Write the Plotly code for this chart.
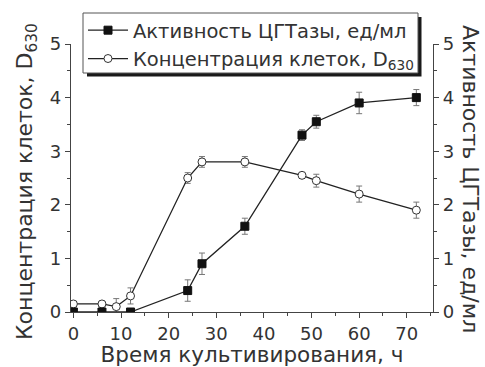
import plotly.graph_objects as go

# Data
act_time = [0, 6, 12, 24, 27, 36, 48, 51, 60, 72]
act_val = [0.0, 0.0, 0.0, 0.4, 0.9, 1.6, 3.3, 3.55, 3.9, 4.0]
act_err = [0.0, 0.0, 0.05, 0.2, 0.2, 0.15, 0.1, 0.12, 0.2, 0.15]

cell_time = [0, 6, 9, 12, 24, 27, 36, 48, 51, 60, 72]
cell_val = [0.15, 0.15, 0.1, 0.3, 2.5, 2.8, 2.8, 2.55, 2.45, 2.2, 1.9]
cell_err = [0.0, 0.05, 0.15, 0.15, 0.1, 0.1, 0.1, 0.05, 0.12, 0.15, 0.15]

x_title = "Время культивирования, ч"
y_left_title = "Концентрация клеток, D<sub>630</sub>"
y_right_title = "Активность ЦГТазы, ед/мл"

FONT = "DejaVu Sans, sans-serif"
TXT = "#333333"
LINE = "#222222"

fig = go.Figure()

fig.add_trace(go.Scatter(
    x=act_time, y=act_val, name=y_right_title,
    mode="lines+markers",
    line=dict(color=LINE, width=1.3),
    marker=dict(symbol="square", size=8, color="#111111", line=dict(color="#111111", width=1)),
    error_y=dict(type="data", array=act_err, visible=True, color="#777777", thickness=1, width=3),
    yaxis="y2",
))
fig.add_trace(go.Scatter(
    x=cell_time, y=cell_val, name="Концентрация клеток, D<sub>630</sub>",
    mode="lines+markers",
    line=dict(color=LINE, width=1.3),
    marker=dict(symbol="circle", size=8, color="white", line=dict(color="#333333", width=1)),
    error_y=dict(type="data", array=cell_err, visible=True, color="#777777", thickness=1, width=3),
))

axis_common = dict(
    showline=True, linecolor="#444444", linewidth=1.3,
    ticks="outside", ticklen=5, tickwidth=1.2, tickcolor="#444444",
    showgrid=False, zeroline=False,
    tickfont=dict(family=FONT, size=18, color=TXT),
)
minor_x = dict(ticks="outside", ticklen=3, tickcolor="#444444", tickwidth=1, dtick=5, tick0=0, showgrid=False)
minor_y = dict(ticks="outside", ticklen=3, tickcolor="#444444", tickwidth=1, dtick=0.5, tick0=0, showgrid=False)

def px_x(p):
    return (p - 71) / 362

def px_y(p):
    return (312 - p) / 268

fig.update_layout(
    width=485, height=367,
    margin=dict(l=71, r=52, t=44, b=55, autoexpand=False),
    paper_bgcolor="white", plot_bgcolor="white",
    font=dict(family=FONT, size=18, color=TXT),
    xaxis=dict(range=[-0.5, 75.5], tickmode="linear", tick0=0, dtick=10, minor=minor_x, **axis_common,
               title=dict(text=x_title, font=dict(family=FONT, size=21.5, color=TXT), standoff=0)),
    yaxis=dict(range=[0, 5], tickmode="linear", tick0=0, dtick=1, minor=minor_y, **axis_common),
    yaxis2=dict(range=[0, 5], tickmode="linear", tick0=0, dtick=1, overlaying="y", side="right",
                minor=minor_y, **axis_common),
    showlegend=True,
    legend=dict(x=px_x(83), y=px_y(11), xanchor="left", yanchor="top",
                bgcolor="rgba(0,0,0,0)", borderwidth=0,
                font=dict(family=FONT, size=19.5, color=TXT),
                tracegroupgap=0, itemwidth=40),
    annotations=[
        dict(text=y_right_title, textangle=90,
             xref="paper", yref="paper", x=px_x(471), y=px_y(179),
             xanchor="center", yanchor="middle",
             showarrow=False, font=dict(family=FONT, size=22, color=TXT)),
        dict(text=y_left_title, textangle=-90,
             xref="paper", yref="paper", x=px_x(26), y=px_y(182),
             xanchor="center", yanchor="middle",
             showarrow=False, font=dict(family=FONT, size=22, color=TXT)),
    ],
    shapes=[
        # legend drop shadow
        dict(type="rect", xref="paper", yref="paper",
             x0=px_x(87), x1=px_x(421.5), y0=px_y(76.5), y1=px_y(17),
             fillcolor="#1a1a1a", line=dict(width=0), layer="above"),
        # legend box
        dict(type="rect", xref="paper", yref="paper",
             x0=px_x(83), x1=px_x(418), y0=px_y(73), y1=px_y(13),
             fillcolor="white", line=dict(color="#555555", width=1), layer="above"),
    ],
)

fig.write_html("out.html", config={"displayModeBar": False},
               post_script="document.body.style.margin='0';document.body.style.padding='0';")
